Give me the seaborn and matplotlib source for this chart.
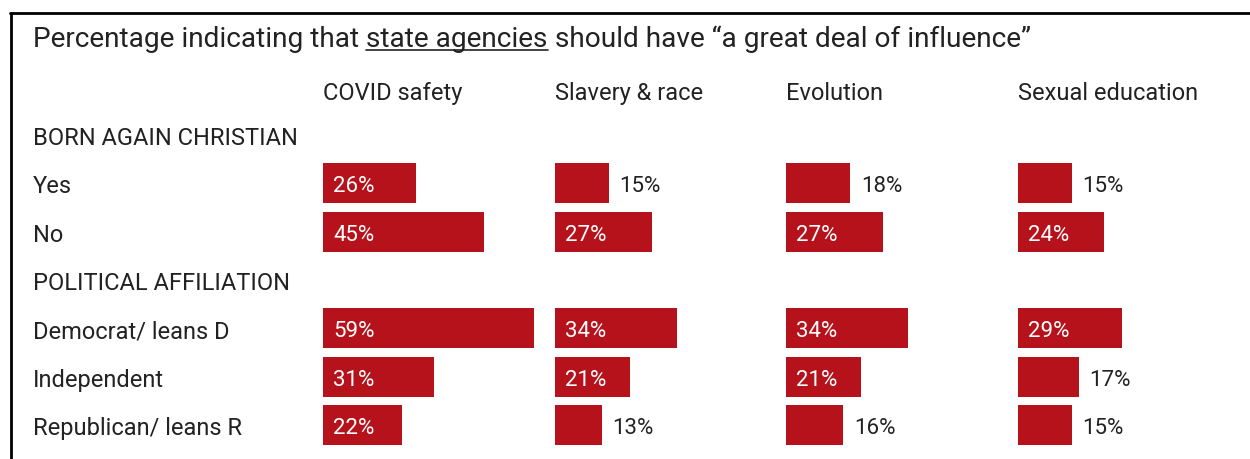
import matplotlib
matplotlib.use("Agg")
import matplotlib.pyplot as plt
from matplotlib.lines import Line2D
import seaborn as sns
import pandas as pd

# ---- data ----
title_parts = ["Percentage indicating that ", "state agencies",
               " should have \u201ca great deal of influence\u201d"]
topics = ["COVID safety", "Slavery & race", "Evolution", "Sexual education"]
section_born_again = "BORN AGAIN CHRISTIAN"
section_political = "POLITICAL AFFILIATION"
born_again_groups = ["Yes", "No"]
political_groups = ["Democrat/ leans D", "Independent", "Republican/ leans R"]
covid_safety = [26, 45, 59, 31, 22]
slavery_race = [15, 27, 34, 21, 13]
evolution = [18, 27, 34, 21, 16]
sexual_education = [15, 24, 29, 17, 15]

# ---- style ----
RED = "#B5121B"
INK = "#222222"
W, H = 1250, 460
sns.set_theme(style="white")
plt.rcParams["font.family"] = ["Roboto", "DejaVu Sans"]

LABEL_SIZE = 17.0
VALUE_SIZE = 16.0
TITLE_SIZE = 20.2


def fx(px):
    return px / W


def fy(py):
    return 1 - py / H


groups = born_again_groups + political_groups
rows = [section_born_again] + born_again_groups + [section_political] + political_groups
series = [covid_safety, slavery_race, evolution, sexual_education]

fig = plt.figure(figsize=(W / 100, H / 100), dpi=100)
fig.patch.set_facecolor("white")

# frame around the panel (left and top edges)
fig.add_artist(Line2D([fx(10.5), fx(10.5)], [fy(14), 0], color="black", lw=2.0))
fig.add_artist(Line2D([fx(10), 1], [fy(14), fy(14)], color="black", lw=2.0))

# row geometry (pixels)
row0_y = 136.0
row_step = 48.33
col_x = [323, 555, 786, 1018]
px_per_pct = 3.58
xmax = 60
ax_w = xmax * px_per_pct
ax_top = row0_y - row_step / 2
ax_bottom = row0_y + row_step * (len(rows) - 0.5)

for topic, values, x0 in zip(topics, series, col_x):
    ax = fig.add_axes([fx(x0), fy(ax_bottom), ax_w / W, (ax_bottom - ax_top) / H])
    df = pd.DataFrame({"group": groups, "value": values})
    sns.barplot(data=df, x="value", y="group", order=rows, orient="h",
                color=RED, saturation=1, width=0.83, ax=ax, edgecolor="none")
    ax.set_xlim(0, xmax)
    ax.set_ylim(len(rows) - 0.5, -0.5)
    ax.axis("off")
    for g, v in zip(groups, values):
        r = rows.index(g)
        if v >= 20:
            ax.annotate(f"{v}%", xy=(0, r), xytext=(7.5, 0), textcoords="offset points",
                        ha="left", va="center_baseline", color="white", fontsize=VALUE_SIZE)
        else:
            ax.annotate(f"{v}%", xy=(v, r), xytext=(7.5, 0), textcoords="offset points",
                        ha="left", va="center_baseline", color=INK, fontsize=VALUE_SIZE)
    fig.text(fx(x0), fy(91), topic, ha="left", va="center_baseline", color=INK,
             fontsize=LABEL_SIZE)

# row labels and section headers
for r, label in enumerate(rows):
    fig.text(fx(33), fy(row0_y + r * row_step), label, ha="left", va="center_baseline",
             color=INK, fontsize=LABEL_SIZE)

# subtitle with underlined phrase
renderer = fig.canvas.get_renderer()
x_px = 33
for i, part in enumerate(title_parts):
    t = fig.text(fx(x_px), fy(47), part, ha="left", va="baseline",
                 color=INK, fontsize=TITLE_SIZE)
    bb = t.get_window_extent(renderer)
    if i == 1:
        fig.add_artist(Line2D([bb.x0 / W, bb.x1 / W], [fy(50.5), fy(50.5)],
                              color=INK, lw=1.2))
    x_px = bb.x1

fig.savefig("out.png", dpi=100, facecolor="white")
